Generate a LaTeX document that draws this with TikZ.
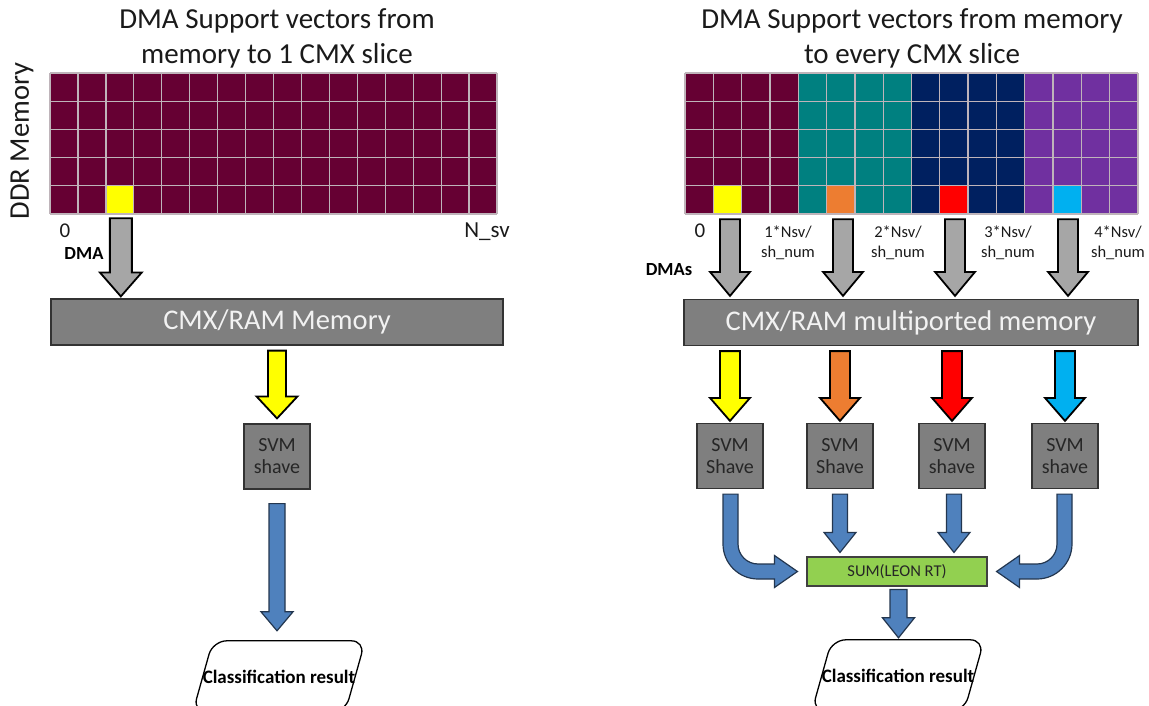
\documentclass[tikz,border=0pt]{standalone}
\usepackage{fontspec}
\setmainfont{Carlito}
\usetikzlibrary{calc}

\definecolor{ddrred}{HTML}{660033}
\definecolor{tealc}{HTML}{008080}
\definecolor{navyc}{HTML}{002060}
\definecolor{purplec}{HTML}{7030A0}
\definecolor{hlyellow}{HTML}{FFFF00}
\definecolor{hlorange}{HTML}{ED7D31}
\definecolor{hlred}{HTML}{FF0000}
\definecolor{hlcyan}{HTML}{00B0F0}
\definecolor{gridc}{HTML}{BFB4BA}
\definecolor{dmagray}{HTML}{A6A6A6}
\definecolor{boxgray}{HTML}{7F7F7F}
\definecolor{flowblue}{HTML}{4F81BD}
\definecolor{flowedge}{HTML}{23364F}
\definecolor{sumgreen}{HTML}{92D050}
\definecolor{txt}{HTML}{1A1A1A}

% one grid square lifted out in a highlight colour
\tikzset{
  hlcell/.style={rectangle, inner sep=0pt, draw=none, minimum height=28.2pt},
  gridln/.style={draw=gridc, line width=1.3pt},
  titletxt/.style={font=\fontsize{29}{35}\selectfont, align=center, text=txt},
  membox/.style={rectangle, fill=boxgray, draw=black!80, line width=1.2pt,
    text=white!95!black, font=\fontsize{28.5}{30}\selectfont, inner sep=0pt},
  svmbox/.style={rectangle, fill=boxgray, draw=black!80, line width=1.2pt,
    text=black!85, font=\fontsize{20}{22}\selectfont, align=center,
    minimum width=66pt, minimum height=65pt, inner sep=0pt},
  sumbox/.style={rectangle, fill=sumgreen, draw=black!75, line width=1.1pt,
    text=black!85, font=\fontsize{16.5}{18}\selectfont,
    minimum width=180pt, minimum height=29pt, inner sep=0pt},
  restxt/.style={rectangle, draw=none, font=\bfseries\fontsize{19}{21}\selectfont,
    text=black, minimum width=152pt, minimum height=71pt, inner sep=0pt},
  resedge/.style={draw=black, line width=1.3pt, rounded corners=14pt, fill=white},
  lbl/.style={font=\fontsize{16.5}{20}\selectfont, align=center, text=txt},
  numlbl/.style={font=\fontsize{21}{24}\selectfont, text=txt},
  boldlbl/.style={font=\bfseries\fontsize{18.5}{20}\selectfont, text=black},
  grayarrow/.style={fill=dmagray, draw=black, line width=1.8pt, line join=miter},
  colarrow/.style={fill=#1, draw=black, line width=1.8pt, line join=miter},
  bluearrow/.style={fill=flowblue, draw=flowedge, line width=1.2pt, line join=miter},
}

% straight block arrow pointing down: start, tip, shaft half width,
% head half width, head length, style
\newcommand\blockdown[6]{%
  \coordinate (bs) at #1;
  \coordinate (bt) at #2;
  \draw[#6] ($(bs)+(-#3,0)$) -- ($(bs|-bt)+(-#3,-#5)$) -- ($(bs|-bt)+(-#4,-#5)$)
    -- (bs|-bt) -- ($(bs|-bt)+(#4,-#5)$) -- ($(bs|-bt)+(#3,-#5)$)
    -- ($(bs)+(#3,0)$) -- cycle;}

% bent block arrow: goes down from a start, turns and points sideways at a tip;
% third argument 1 turns right, -1 turns left
\newcommand\bentarrow[3]{%
  \coordinate (cs) at #1;
  \coordinate (ct) at #2;
  \coordinate (cc) at (cs|-ct);
  \draw[bluearrow] ($(cs)+({-7.5*(#3)},0)$) -- ($(cc)+({-7.5*(#3)},-27.5)$)
    .. controls ($(cc)+({-7.5*(#3)},-8.2)$) and ($(cc)+({8.2*(#3)},7.5)$) .. ($(cc)+({27.5*(#3)},7.5)$)
    -- ($(ct)+({-23*(#3)},7.5)$) -- ($(ct)+({-23*(#3)},16)$) -- (ct)
    -- ($(ct)+({-23*(#3)},-16)$) -- ($(ct)+({-23*(#3)},-7.5)$) -- ($(cc)+({27.5*(#3)},-7.5)$)
    .. controls ($(cc)+({16.45*(#3)},-7.5)$) and ($(cc)+({7.5*(#3)},-16.45)$) .. ($(cc)+({7.5*(#3)},-27.5)$)
    -- ($(cs)+({7.5*(#3)},0)$) -- cycle;}

\begin{document}
\begin{tikzpicture}[x=1pt,y=-1pt]
\useasboundingbox (0,0) rectangle (1149,706);
\clip (0,0) rectangle (1149,706);

% ---------------- titles ----------------
\node[titletxt] (titleL) at (277,38) {DMA Support vectors from\\memory to 1 CMX slice};
\node[titletxt] (titleR) at (912,38) {DMA Support vectors from memory\\to every CMX slice};
\node[titletxt, font=\fontsize{28.5}{30}\selectfont, rotate=90] (ddr) at (22,141) {DDR Memory};

% ---------------- DDR memory, single slice ----------------
\fill[ddrred] (50,73) rectangle (497,214);
\node[hlcell, fill=hlyellow, minimum width=27.94pt] (cellL) at (119.85,199.9) {};
\foreach \c in {0,...,16} \draw[gridln] ({50+\c*27.94},73) -- ++(0,141);
\foreach \r in {0,...,5} \draw[gridln] (50,{73+\r*28.2}) -- (497,{73+\r*28.2});

% ---------------- DDR memory, split in four ----------------
\foreach \g/\col in {0/ddrred,1/tealc,2/navyc,3/purplec}
  \fill[\col] ({685+\g*4*28.31},73) rectangle ++({4*28.31},141);
\node[hlcell, fill=hlyellow, minimum width=28.31pt] (cellA) at (727.5,199.9) {};
\node[hlcell, fill=hlorange, minimum width=28.31pt] (cellB) at (840.7,199.9) {};
\node[hlcell, fill=hlred,    minimum width=28.31pt] (cellC) at (954.0,199.9) {};
\node[hlcell, fill=hlcyan,   minimum width=28.31pt] (cellD) at (1067.2,199.9) {};
\foreach \c in {0,...,16} \draw[gridln] ({685+\c*28.31},73) -- ++(0,141);
\foreach \r in {0,...,5} \draw[gridln] (685,{73+\r*28.2}) -- (1138,{73+\r*28.2});

% ---------------- address labels ----------------
\node[numlbl] (zeroL) at (65,231) {0};
\node[font=\fontsize{23}{24}\selectfont, text=txt] (nsv) at (487,232) {N\_sv};
\node[boldlbl] (dmaL) at (84,254) {DMA};
\node[numlbl] (zeroR) at (700,231) {0};
\node[boldlbl] (dmaR) at (669,270) {DMAs};
\node[lbl] (off1) at (788,243) {1*Nsv/\\sh\_num};
\node[lbl] (off2) at (898,243) {2*Nsv/\\sh\_num};
\node[lbl] (off3) at (1008,243) {3*Nsv/\\sh\_num};
\node[lbl] (off4) at (1118,243) {4*Nsv/\\sh\_num};

% ---------------- CMX memories ----------------
\node[membox, minimum width=452pt, minimum height=46pt] (cmxL) at (277,322) {CMX/RAM Memory};
\node[membox, minimum width=454pt, minimum height=46pt] (cmxR) at (911,322.5) {CMX/RAM multiported memory};

% ---------------- shaves ----------------
\node[svmbox] (svmL) at (277,456.5) {SVM\\shave};
\node[svmbox] (svmA) at (730,456) {SVM\\Shave};
\node[svmbox] (svmB) at (840,456) {SVM\\Shave};
\node[svmbox] (svmC) at (952,456) {SVM\\shave};
\node[svmbox] (svmD) at (1065,456) {SVM\\shave};

\node[sumbox] (sum) at (897,571.5) {SUM(LEON RT)};

% ---------------- results ----------------
\node[restxt] (resL) at (279,676.5) {};
\draw[resedge] ($(resL.north west)+(10,0)$) -- ($(resL.north east)+(10,0)$)
  -- ($(resL.south east)+(-10,0)$) -- ($(resL.south west)+(-10,0)$) -- cycle;
\node[restxt] at (resL) {Classification result};
\node[restxt] (resR) at (898,675.5) {};
\draw[resedge] ($(resR.north west)+(10,0)$) -- ($(resR.north east)+(10,0)$)
  -- ($(resR.south east)+(-10,0)$) -- ($(resR.south west)+(-10,0)$) -- cycle;
\node[restxt] at (resR) {Classification result};

% ---------------- DMA transfers ----------------
\blockdown{($(cellL.south)+(1,4)$)}{($(cmxL.north)+(0,-2)$)}{11}{21}{24}{grayarrow}
\blockdown{($(cellA.south)+(2.5,5)$)}{($(cmxR.north)+(0,-3)$)}{10}{20}{24}{grayarrow}
\blockdown{($(cellB.south)+(2.3,5)$)}{($(cmxR.north)+(0,-3)$)}{10}{20}{24}{grayarrow}
\blockdown{($(cellC.south)+(1,5)$)}{($(cmxR.north)+(0,-3)$)}{10}{20}{24}{grayarrow}
\blockdown{($(cellD.south)+(0.8,5)$)}{($(cmxR.north)+(0,-3)$)}{10}{20}{24}{grayarrow}

% ---------------- CMX to shaves ----------------
\blockdown{($(svmL.north|-cmxL.south)+(0,5)$)}{($(svmL.north)+(0,-5)$)}{9}{20.5}{22}{colarrow=hlyellow}
\blockdown{($(svmA.north|-cmxR.south)+(0,5)$)}{($(svmA.north)+(0,-2)$)}{10}{20}{23}{colarrow=hlyellow}
\blockdown{($(svmB.north|-cmxR.south)+(0,5)$)}{($(svmB.north)+(0,-2)$)}{10}{20}{23}{colarrow=hlorange}
\blockdown{($(svmC.north|-cmxR.south)+(0,5)$)}{($(svmC.north)+(0,-2)$)}{10}{20}{23}{colarrow=hlred}
\blockdown{($(svmD.north|-cmxR.south)+(0,5)$)}{($(svmD.north)+(0,-2)$)}{10}{20}{23}{colarrow=hlcyan}

% ---------------- results flow ----------------
\blockdown{($(svmL.south)+(0,14)$)}{($(resL.north)+(0,-10)$)}{8}{16}{19}{bluearrow}
\blockdown{($(svmB.south)+(0,5)$)}{($(sum.north)+(0,-4)$)}{7.5}{16}{20}{bluearrow}
\blockdown{($(svmC.south)+(2,5)$)}{($(sum.north)+(0,-4)$)}{7.5}{16}{20}{bluearrow}
\bentarrow{($(svmA.south)+(0.5,5)$)}{($(sum.west)+(-9,0)$)}{1}
\bentarrow{($(svmD.south)+(-0.5,5)$)}{($(sum.east)+(9,0)$)}{-1}
\blockdown{($(sum.south)+(1.5,3)$)}{($(resR.north)+(0,-2)$)}{8.5}{16}{20}{bluearrow}

\end{tikzpicture}
\end{document}
